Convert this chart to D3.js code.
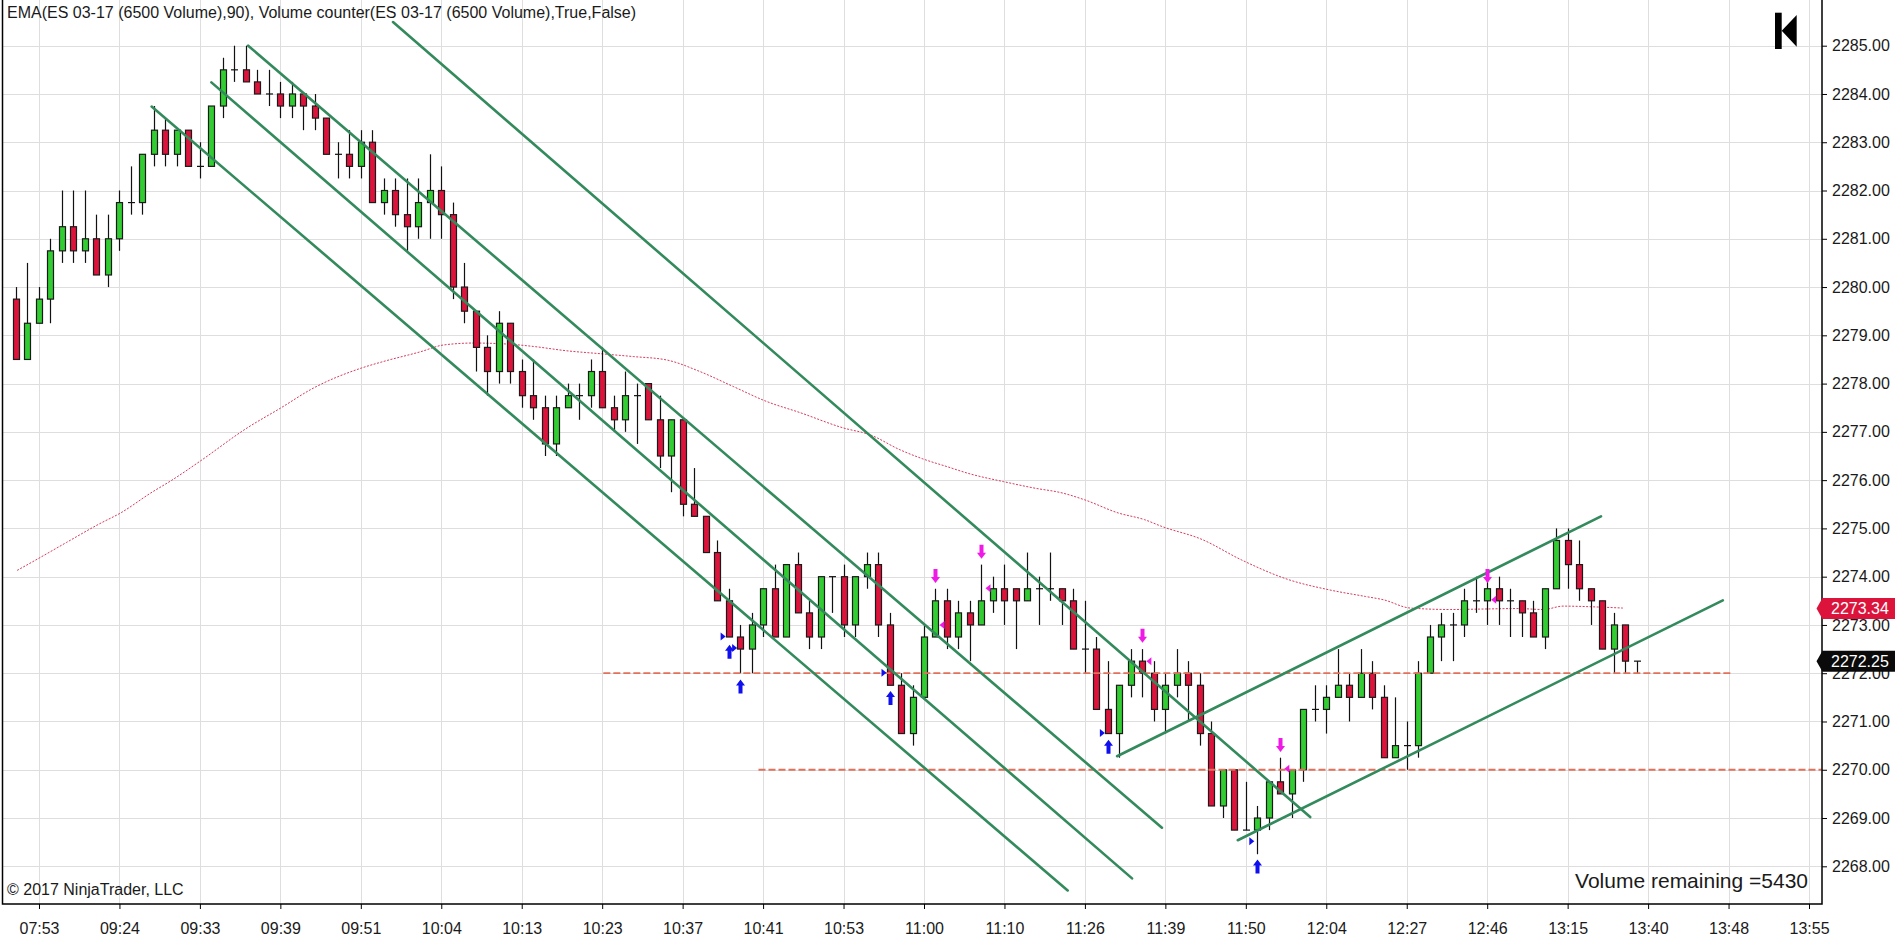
<!DOCTYPE html>
<html>
<head>
<meta charset="utf-8">
<script src="https://cdnjs.cloudflare.com/ajax/libs/d3/7.8.5/d3.min.js"></script>
<style>
body { margin: 0; background: #fff; overflow: hidden; }
text { font-family: "Liberation Sans", Arial, sans-serif; }
</style>
</head>
<body>
<div id="chart"></div>
<script>
// candles, one per 6500 volume bar
const opens = [
  2279.75, 2278.5, 2279.25, 2279.75, 2280.75, 2281.25, 2280.75, 2281.0, 2280.25, 2281.0,
  2281.75, 2281.75, 2282.75, 2283.25, 2282.75, 2283.25, 2282.5, 2282.5, 2283.75, 2284.5,
  2284.5, 2284.25, 2284.0, 2284.0, 2283.75, 2284.0, 2283.75, 2283.5, 2282.75, 2282.75,
  2282.5, 2283.0, 2281.75, 2282.0, 2281.5, 2281.25, 2281.75, 2282.0, 2281.5, 2280.0,
  2279.5, 2278.75, 2278.25, 2279.25, 2278.25, 2277.75, 2277.5, 2276.75, 2277.5, 2277.75,
  2277.75, 2278.25, 2277.5, 2277.25, 2277.75, 2278.0, 2277.25, 2276.5, 2277.25, 2275.5,
  2275.25, 2274.5, 2273.5, 2272.75, 2272.5, 2273.0, 2273.75, 2272.75, 2274.25, 2273.25,
  2272.75, 2274.0, 2274.0, 2273.0, 2274.0, 2274.25, 2273.0, 2271.75, 2270.75, 2271.5,
  2272.75, 2273.5, 2272.75, 2273.25, 2273.0, 2273.5, 2273.75, 2273.75, 2273.5, 2273.75,
  2273.75, 2273.75, 2273.5, 2272.5, 2272.5, 2271.25, 2270.75, 2271.75, 2272.25, 2272.0,
  2271.25, 2271.75, 2272.0, 2271.75, 2270.75, 2269.25, 2270.0, 2268.75, 2268.75, 2269.0,
  2269.75, 2269.5, 2270.0, 2271.25, 2271.25, 2271.5, 2271.75, 2271.5, 2272.0, 2271.5,
  2270.25, 2270.5, 2270.5, 2272.0, 2272.75, 2273.0, 2273.0, 2273.5, 2273.5, 2273.75,
  2273.5, 2273.5, 2273.25, 2272.75, 2273.75, 2274.75, 2274.25, 2273.75, 2273.5, 2272.5,
  2273.0, 2272.25
];
const highs = [
  2280.0, 2280.5, 2280.0, 2281.0, 2282.0, 2282.0, 2282.0, 2281.5, 2281.5, 2282.0,
  2282.5, 2282.75, 2283.75, 2283.5, 2283.25, 2283.25, 2283.0, 2283.75, 2284.75, 2285.0,
  2285.0, 2284.5, 2284.5, 2284.25, 2284.25, 2284.0, 2284.0, 2283.5, 2283.0, 2283.25,
  2283.25, 2283.25, 2282.25, 2282.25, 2282.25, 2282.25, 2282.75, 2282.5, 2281.75, 2280.5,
  2279.5, 2279.0, 2279.5, 2279.25, 2278.5, 2278.5, 2277.75, 2277.75, 2278.0, 2278.0,
  2278.5, 2278.75, 2277.75, 2278.25, 2278.0, 2278.0, 2277.75, 2277.25, 2277.25, 2276.25,
  2275.25, 2274.75, 2273.75, 2273.0, 2273.25, 2273.75, 2274.25, 2274.25, 2274.5, 2273.5,
  2274.0, 2274.0, 2274.25, 2274.0, 2274.5, 2274.5, 2273.25, 2272.0, 2271.75, 2273.0,
  2273.75, 2273.75, 2273.5, 2273.5, 2274.25, 2274.0, 2274.25, 2273.75, 2274.5, 2274.0,
  2274.5, 2273.75, 2273.75, 2273.5, 2272.75, 2272.25, 2271.75, 2272.5, 2272.5, 2272.25,
  2272.0, 2272.5, 2272.25, 2272.0, 2271.0, 2270.0, 2270.0, 2269.75, 2269.25, 2269.75,
  2270.25, 2270.0, 2271.25, 2271.75, 2271.75, 2272.5, 2272.0, 2272.5, 2272.25, 2271.75,
  2271.5, 2271.0, 2272.25, 2273.0, 2273.25, 2273.25, 2273.75, 2274.0, 2274.0, 2274.0,
  2273.75, 2273.5, 2273.5, 2273.75, 2275.0, 2275.0, 2274.75, 2273.75, 2273.5, 2273.25,
  2273.0, 2272.25
];
const lows = [
  2278.5, 2278.5, 2279.25, 2279.25, 2280.5, 2280.5, 2280.5, 2280.25, 2280.0, 2280.75,
  2281.5, 2281.5, 2282.5, 2282.5, 2282.5, 2282.5, 2282.25, 2282.5, 2283.5, 2284.25,
  2284.25, 2284.0, 2283.75, 2283.5, 2283.5, 2283.25, 2283.25, 2282.75, 2282.25, 2282.25,
  2282.25, 2281.75, 2281.5, 2281.25, 2280.75, 2281.0, 2281.0, 2281.0, 2279.75, 2279.25,
  2278.25, 2277.75, 2278.0, 2278.0, 2277.5, 2277.25, 2276.5, 2276.5, 2277.5, 2277.25,
  2277.5, 2277.5, 2277.0, 2277.0, 2276.75, 2277.25, 2276.25, 2275.75, 2275.25, 2275.25,
  2274.5, 2273.5, 2272.75, 2272.0, 2272.0, 2272.75, 2272.75, 2272.75, 2273.25, 2272.5,
  2272.5, 2273.25, 2272.75, 2272.75, 2273.75, 2272.75, 2271.75, 2270.75, 2270.5, 2271.5,
  2272.75, 2272.5, 2272.5, 2272.25, 2273.0, 2273.25, 2273.0, 2272.5, 2273.5, 2273.0,
  2273.5, 2273.0, 2272.5, 2272.0, 2271.25, 2270.75, 2270.25, 2271.5, 2271.5, 2271.0,
  2270.75, 2271.5, 2271.0, 2270.5, 2269.25, 2269.0, 2268.75, 2268.75, 2268.25, 2268.75,
  2269.5, 2269.0, 2269.75, 2271.0, 2270.75, 2271.5, 2271.0, 2271.5, 2271.25, 2270.25,
  2270.25, 2270.0, 2270.25, 2272.0, 2272.25, 2272.25, 2272.75, 2273.25, 2273.0, 2273.0,
  2272.75, 2272.75, 2272.75, 2272.5, 2273.75, 2273.75, 2273.5, 2273.0, 2272.5, 2272.0,
  2272.0, 2272.0
];
const closes = [
  2278.5, 2279.25, 2279.75, 2280.75, 2281.25, 2280.75, 2281.0, 2280.25, 2281.0, 2281.75,
  2281.75, 2282.75, 2283.25, 2282.75, 2283.25, 2282.5, 2282.5, 2283.75, 2284.5, 2284.5,
  2284.25, 2284.0, 2284.0, 2283.75, 2284.0, 2283.75, 2283.5, 2282.75, 2282.75, 2282.5,
  2283.0, 2281.75, 2282.0, 2281.5, 2281.25, 2281.75, 2282.0, 2281.5, 2280.0, 2279.5,
  2278.75, 2278.25, 2279.25, 2278.25, 2277.75, 2277.5, 2276.75, 2277.5, 2277.75, 2277.75,
  2278.25, 2277.5, 2277.25, 2277.75, 2277.75, 2277.25, 2276.5, 2277.25, 2275.5, 2275.25,
  2274.5, 2273.5, 2272.75, 2272.5, 2273.0, 2273.75, 2272.75, 2274.25, 2273.25, 2272.75,
  2274.0, 2274.0, 2273.0, 2274.0, 2274.25, 2273.0, 2271.75, 2270.75, 2271.5, 2272.75,
  2273.5, 2272.75, 2273.25, 2273.0, 2273.5, 2273.75, 2273.5, 2273.5, 2273.75, 2273.75,
  2273.75, 2273.5, 2272.5, 2272.5, 2271.25, 2270.75, 2271.75, 2272.25, 2272.0, 2271.25,
  2271.75, 2272.0, 2271.75, 2270.75, 2269.25, 2270.0, 2268.75, 2268.75, 2269.0, 2269.75,
  2269.5, 2270.0, 2271.25, 2271.25, 2271.5, 2271.75, 2271.5, 2272.0, 2271.5, 2270.25,
  2270.5, 2270.5, 2272.0, 2272.75, 2273.0, 2273.0, 2273.5, 2273.5, 2273.75, 2273.5,
  2273.5, 2273.25, 2272.75, 2273.75, 2274.75, 2274.25, 2273.75, 2273.5, 2272.5, 2273.0,
  2272.25, 2272.25
];

// time axis labels, one every 7 bars starting at bar 2
const timeLabels = ['07:53', '09:24', '09:33', '09:39', '09:51', '10:04', '10:13', '10:23',
  '10:37', '10:41', '10:53', '11:00', '11:10', '11:26', '11:39', '11:50', '12:04', '12:27',
  '12:46', '13:15', '13:40', '13:48', '13:55'];
const priceTicks = d3.range(2268, 2286, 1);

// EMA(90): bar position and value
const emaIdx = [0.1, 1.9, 4.4, 7.3, 9.1, 11.7, 13.7, 16.0, 20.1, 23.0, 25.9, 29.9, 32.0, 35.2,
  37.2, 39.8, 42.7, 45.0, 47.9, 50.8, 53.7, 56.6, 59.5, 62.4, 65.3, 68.2, 72.0, 74.3, 76.9,
  78.9, 81.0, 83.0, 85.9, 88.5, 91.1, 93.0, 95.9, 98.2, 99.7, 103.2, 106.6, 110.7, 114.2,
  117.4, 119.0, 121.3, 124.8, 127.7, 130.6, 132.9, 134.6, 137.8, 139.8];
const emaVal = [2274.13, 2274.37, 2274.71, 2275.10, 2275.32, 2275.73, 2276.02, 2276.39,
  2277.08, 2277.49, 2277.91, 2278.31, 2278.46, 2278.66, 2278.80, 2278.84, 2278.82, 2278.77,
  2278.68, 2278.62, 2278.56, 2278.49, 2278.25, 2277.94, 2277.63, 2277.40, 2277.08, 2276.94,
  2276.63, 2276.44, 2276.28, 2276.13, 2275.97, 2275.84, 2275.73, 2275.59, 2275.32, 2275.18,
  2275.04, 2274.77, 2274.35, 2273.94, 2273.73, 2273.59, 2273.52, 2273.35, 2273.32, 2273.33,
  2273.34, 2273.32, 2273.39, 2273.37, 2273.35];

// drawn trend channel lines: [startBar, startPrice, endBar, endPrice]
const channelLines = [
  [11.8, 2283.74, 91.5, 2267.50],
  [17.0, 2284.24, 97.1, 2267.75],
  [20.2, 2285.00, 99.7, 2268.80],
  [32.8, 2285.49, 112.6, 2269.02],
  [95.8, 2270.28, 137.9, 2275.25],
  [106.3, 2268.54, 148.5, 2273.51]
];

// horizontal levels: [price, startBar, endBar]
const levels = [
  [2272.0, 51.1, 149.4],
  [2270.0, 64.6, 157.1]
];

// signal markers
const buyBars = [62, 63, 76, 95, 108];
const buyArrowPx = [2272.59, 2271.87, 2271.63, 2270.62, 2268.14];
const buyTriPx = [2272.76, 2272.52, 2272.01, 2270.76, 2268.52];
const sellBars = [80, 84, 98, 110, 128];
const sellArrowPx = [2273.87, 2274.37, 2272.63, 2270.37, 2273.87];
const sellTriPx = [2273.0, 2273.76, 2272.25, 2270.02, 2273.52];

const emaLast = 2273.34;
const lastPrice = 2272.25;
const titleText = 'EMA(ES 03-17 (6500 Volume),90), Volume counter(ES 03-17 (6500 Volume),True,False)';
const volumeText = 'Volume remaining =5430';
const copyText = '\u00A9 2017 NinjaTrader, LLC';

//build the svg
const svgWidth = 1895;
const svgHeight = 938;
const plot = { left: 2.5, right: 1822, top: 0, bottom: 904 };

const svg = d3.select('#chart')
  .append('svg')
  .attr('width', svgWidth)
  .attr('height', svgHeight)
  .style('display', 'block');

svg.append('rect')
  .attr('width', svgWidth)
  .attr('height', svgHeight)
  .attr('fill', '#fff');

//scales
const xScale = d3.scaleLinear()
  .domain([-1.175, 157.13])
  .range([plot.left, plot.right]);

const yScale = d3.scaleLinear()
  .domain([2268, 2285])
  .range([866.3, 45.7]);

const labelBars = timeLabels.map((t, k) => 2 + 7 * k);

const bars = opens.map((o, i) => ({ i: i, o: o, h: highs[i], l: lows[i], c: closes[i] }));

const chartGroup = svg.append('g');

//grid
chartGroup.append('g')
  .selectAll('line')
  .data(priceTicks)
  .enter()
  .append('line')
  .attr('x1', plot.left)
  .attr('x2', plot.right)
  .attr('y1', d => Math.round(yScale(d)) + 0.5)
  .attr('y2', d => Math.round(yScale(d)) + 0.5)
  .attr('stroke', '#dedede');

chartGroup.append('g')
  .selectAll('line')
  .data(labelBars)
  .enter()
  .append('line')
  .attr('x1', d => Math.round(xScale(d)) + 0.5)
  .attr('x2', d => Math.round(xScale(d)) + 0.5)
  .attr('y1', plot.top)
  .attr('y2', plot.bottom)
  .attr('stroke', '#dedede');

//ema line
const emaLine = d3.line()
  .x(d => xScale(d[0]))
  .y(d => yScale(d[1]))
  .curve(d3.curveMonotoneX);

chartGroup.append('path')
  .datum(emaIdx.map((v, k) => [v, emaVal[k]]))
  .attr('d', emaLine)
  .attr('fill', 'none')
  .attr('stroke', '#d83a5e')
  .attr('stroke-width', 1)
  .attr('stroke-dasharray', '2,1.5');

//candles
const candleGroup = chartGroup.append('g');

candleGroup.selectAll('line.wick')
  .data(bars)
  .enter()
  .append('line')
  .attr('class', 'wick')
  .attr('x1', d => Math.round(xScale(d.i)) + 0.5)
  .attr('x2', d => Math.round(xScale(d.i)) + 0.5)
  .attr('y1', d => yScale(d.h))
  .attr('y2', d => yScale(d.l))
  .attr('stroke', '#111')
  .attr('stroke-width', 1.2);

candleGroup.selectAll('rect.body')
  .data(bars.filter(d => d.o !== d.c))
  .enter()
  .append('rect')
  .attr('class', 'body')
  .attr('x', d => Math.round(xScale(d.i)) - 2.5)
  .attr('y', d => yScale(Math.max(d.o, d.c)))
  .attr('width', 6)
  .attr('height', d => Math.abs(yScale(d.o) - yScale(d.c)))
  .attr('fill', d => d.c > d.o ? '#32cd32' : '#dc143c')
  .attr('stroke', '#1a1a1a')
  .attr('stroke-width', 1.2);

candleGroup.selectAll('line.doji')
  .data(bars.filter(d => d.o === d.c))
  .enter()
  .append('line')
  .attr('class', 'doji')
  .attr('x1', d => Math.round(xScale(d.i)) - 3)
  .attr('x2', d => Math.round(xScale(d.i)) + 4)
  .attr('y1', d => yScale(d.o))
  .attr('y2', d => yScale(d.o))
  .attr('stroke', '#111')
  .attr('stroke-width', 1.2);

//horizontal levels
chartGroup.append('g')
  .selectAll('line')
  .data(levels)
  .enter()
  .append('line')
  .attr('x1', d => xScale(d[1]))
  .attr('x2', d => xScale(d[2]))
  .attr('y1', d => yScale(d[0]))
  .attr('y2', d => yScale(d[0]))
  .attr('stroke', '#e2705a')
  .attr('stroke-width', 1.8)
  .attr('stroke-dasharray', '7,3');

//channel lines
chartGroup.append('g')
  .selectAll('line')
  .data(channelLines)
  .enter()
  .append('line')
  .attr('x1', d => xScale(d[0]))
  .attr('y1', d => yScale(d[1]))
  .attr('x2', d => xScale(d[2]))
  .attr('y2', d => yScale(d[3]))
  .attr('stroke', '#338a5c')
  .attr('stroke-width', 2.6)
  .attr('stroke-linecap', 'round');

//signal arrows
function arrowPath(x, y, dir) {
  // tip at (x, y), dir -1 points up, 1 points down
  const s = -dir;
  return `M${x},${y} L${x + 4.5},${y + s * 6} L${x + 2},${y + s * 6} L${x + 2},${y + s * 14}` +
    ` L${x - 2},${y + s * 14} L${x - 2},${y + s * 6} L${x - 4.5},${y + s * 6} Z`;
}

const markerGroup = chartGroup.append('g');

markerGroup.selectAll('path.buy')
  .data(buyBars)
  .enter()
  .append('path')
  .attr('class', 'buy')
  .attr('d', (d, k) => arrowPath(Math.round(xScale(d)) + 0.5, yScale(buyArrowPx[k]), -1))
  .attr('fill', '#1010ee');

markerGroup.selectAll('path.buytri')
  .data(buyBars)
  .enter()
  .append('path')
  .attr('class', 'buytri')
  .attr('d', (d, k) => {
    const x = xScale(d) - 3;
    const y = yScale(buyTriPx[k]);
    return `M${x},${y} L${x - 5},${y - 4} L${x - 5},${y + 4} Z`;
  })
  .attr('fill', '#1010ee');

markerGroup.selectAll('path.sell')
  .data(sellBars)
  .enter()
  .append('path')
  .attr('class', 'sell')
  .attr('d', (d, k) => arrowPath(Math.round(xScale(d)) + 0.5, yScale(sellArrowPx[k]), 1))
  .attr('fill', '#f01ae6');

markerGroup.selectAll('path.selltri')
  .data(sellBars)
  .enter()
  .append('path')
  .attr('class', 'selltri')
  .attr('d', (d, k) => {
    const x = xScale(d) + 4;
    const y = yScale(sellTriPx[k]);
    return `M${x},${y} L${x + 5},${y - 4} L${x + 5},${y + 4} Z`;
  })
  .attr('fill', '#f01ae6');

//frame
svg.append('path')
  .attr('d', `M${plot.left},0 V${plot.bottom} H${plot.right} V0`)
  .attr('fill', 'none')
  .attr('stroke', '#000')
  .attr('stroke-width', 1.5);

//axes
const yAxis = d3.axisRight(yScale)
  .tickValues(priceTicks)
  .tickFormat(d3.format('.2f'))
  .tickSize(5)
  .tickPadding(5);

const yAxisGroup = svg.append('g')
  .attr('transform', `translate(${plot.right}, 0)`)
  .call(yAxis);
yAxisGroup.select('.domain').remove();
yAxisGroup.selectAll('text')
  .attr('font-size', 16)
  .attr('font-family', '"Liberation Sans", Arial, sans-serif')
  .attr('fill', '#1a1a1a');

const xAxis = d3.axisBottom(xScale)
  .tickValues(labelBars)
  .tickFormat((d, k) => timeLabels[k])
  .tickSize(5)
  .tickPadding(13.5);

const xAxisGroup = svg.append('g')
  .attr('transform', `translate(0, ${plot.bottom})`)
  .call(xAxis);
xAxisGroup.select('.domain').remove();
xAxisGroup.selectAll('text')
  .attr('font-size', 16)
  .attr('font-family', '"Liberation Sans", Arial, sans-serif')
  .attr('fill', '#1a1a1a');

//price flags on the axis
function priceFlag(price, color) {
  const y = yScale(price);
  const g = svg.append('g');
  g.append('path')
    .attr('d', `M${plot.right - 5.5},${y} L${plot.right + 0.5},${y - 10.5} H${svgWidth} V${y + 10.5} H${plot.right + 0.5} Z`)
    .attr('fill', color);
  g.append('text')
    .attr('x', plot.right + 9)
    .attr('y', y)
    .attr('dy', '0.36em')
    .attr('font-size', 16)
    .attr('fill', '#fff')
    .text(d3.format('.2f')(price));
}
priceFlag(emaLast, '#dc143c');
priceFlag(lastPrice, '#0a0a0a');

//texts
svg.append('text')
  .attr('x', 7)
  .attr('y', 18)
  .attr('font-size', 16)
  .attr('fill', '#1a1a1a')
  .text(titleText);

svg.append('text')
  .attr('x', 7)
  .attr('y', 895)
  .attr('font-size', 16)
  .attr('fill', '#1a1a1a')
  .text(copyText);

svg.append('text')
  .attr('x', 1808)
  .attr('y', 888)
  .attr('text-anchor', 'end')
  .attr('font-size', 21)
  .attr('fill', '#1a1a1a')
  .text(volumeText);

//jump to last bar icon
svg.append('rect')
  .attr('x', 1775)
  .attr('y', 12.7)
  .attr('width', 6.7)
  .attr('height', 36.3)
  .attr('fill', '#000');
svg.append('path')
  .attr('d', 'M1781.7,30.8 L1796.7,15 L1796.7,46.7 Z')
  .attr('fill', '#000');
</script>
</body>
</html>
